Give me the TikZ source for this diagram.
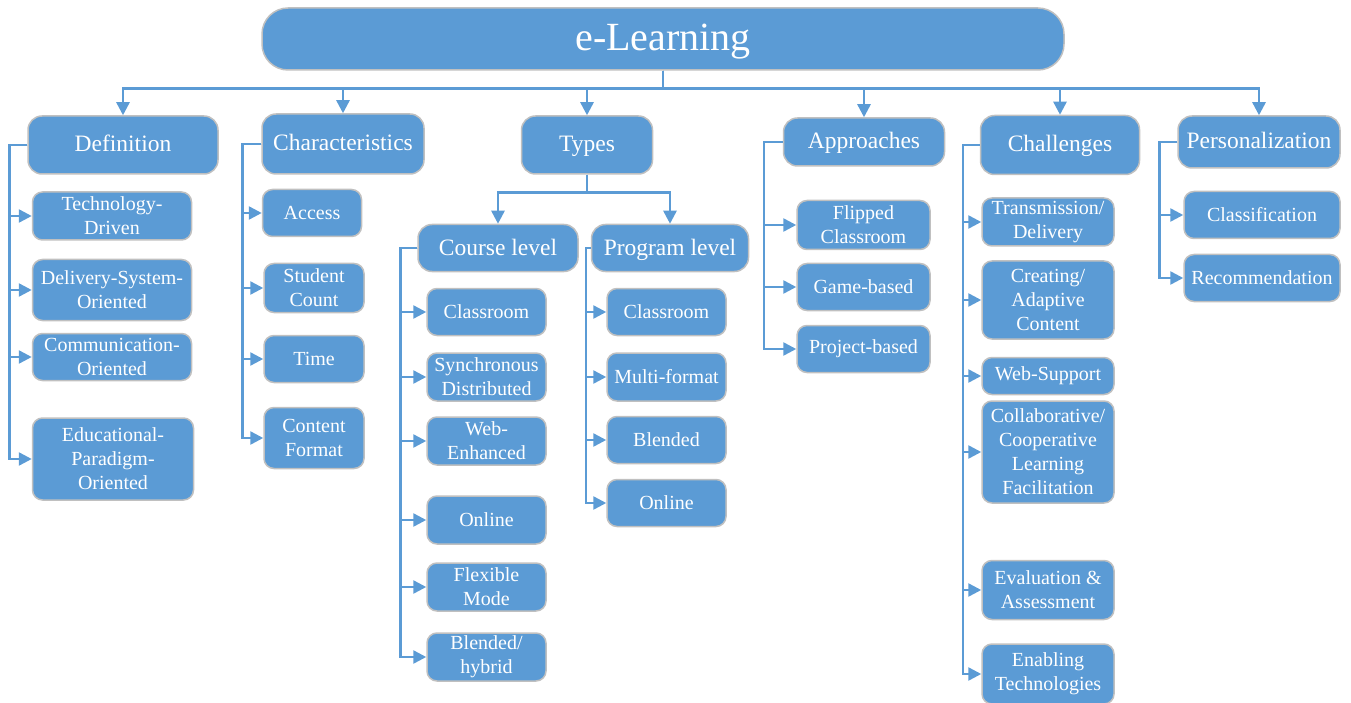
\documentclass[tikz,border=0pt]{standalone}
\usepackage{fontspec}
\setmainfont{Liberation Serif}
\usetikzlibrary{arrows.meta, positioning}
\usepackage{xcolor}
\definecolor{elblue}{RGB}{91,155,213}
\definecolor{elrim}{RGB}{192,192,192}

\begin{document}
\begin{tikzpicture}[
  x=1pt, y=-1pt,
  box/.style={rectangle, rounded corners=10pt, draw=elrim, line width=1.5pt, fill=elblue,
              text=white, align=center, inner sep=1pt, font=\fontsize{20}{24}\selectfont},
  cat/.style 2 args={box, rounded corners=14pt, minimum width=#1pt, minimum height=#2pt,
              text height=19pt, text depth=5pt, font=\fontsize{23.5}{27}\selectfont},
  leaf/.style 2 args={box, minimum width=#1pt, minimum height=#2pt},
  arr/.style={-{Triangle[length=13pt, width=13pt]}, line width=2.5pt, draw=elblue}
]
\useasboundingbox (0,0) rectangle (1351,703);

% root
\node[box, rounded corners=26pt, minimum width=802pt, minimum height=62pt,
      text height=32pt, text depth=8pt,
      font=\fontsize{40}{44}\selectfont] (elearn) at (663,39) {e-Learning};

% categories
\node[cat={190}{58}] (def)   at (123,145)  {Definition};
\node[cat={162}{60}] (chars) at (343,144)  {Characteristics};
\node[cat={131}{58}] (types) at (587,145)  {Types};
\node[cat={161}{48}] (appr)  at (864,142)  {Approaches};
\node[cat={159}{59}] (chal)  at (1060,145) {Challenges};
\node[cat={162}{52}] (pers)  at (1259,142) {Personalization};

% definition
\node[leaf={159}{48}] (tech)  at (112,216) {Technology-\\Driven};
\node[leaf={159}{61}] (deliv) at (112,290) {Delivery-System-\\Oriented};
\node[leaf={159}{47}] (comm)  at (112,357) {Communication-\\Oriented};
\node[leaf={161}{82}] (edu)   at (113,459) {Educational-\\Paradigm-\\Oriented};

% characteristics
\node[leaf={99}{47}]  (access) at (312,213) {Access};
\node[leaf={100}{49}] (count)  at (314,288) {Student\\Count};
\node[leaf={100}{47}] (time)   at (314,359) {Time};
\node[leaf={100}{61}] (format) at (314,438) {Content\\Format};

% types
\node[cat={160}{47}] (course) at (498,248) {Course level};
\node[cat={157}{47}] (prog)   at (670,248) {Program level};

\node[leaf={119}{47}] (cclass) at (486.5,312) {Classroom};
\node[leaf={119}{48}] (csync)  at (486.5,377) {Synchronous\\Distributed};
\node[leaf={119}{48}] (cweb)   at (486.5,441) {Web-\\Enhanced};
\node[leaf={119}{48}] (conl)   at (486.5,520) {Online};
\node[leaf={119}{48}] (cflex)  at (486.5,587) {Flexible\\Mode};
\node[leaf={119}{48}] (cblend) at (486.5,657) {Blended/\\hybrid};

\node[leaf={119}{47}] (pclass) at (666.5,312) {Classroom};
\node[leaf={119}{48}] (pmulti) at (666.5,377) {Multi-format};
\node[leaf={119}{47}] (pblend) at (666.5,440) {Blended};
\node[leaf={119}{47}] (ponl)   at (666.5,503) {Online};

% approaches
\node[leaf={133}{49}] (flip) at (863.5,225) {Flipped\\Classroom};
\node[leaf={133}{47}] (game) at (863.5,287) {Game-based};
\node[leaf={133}{47}] (proj) at (863.5,349) {Project-based};

% challenges
\node[leaf={132}{48}]  (trans)  at (1048,222) {Transmission/\\Delivery};
\node[leaf={132}{78}]  (creat)  at (1048,300) {Creating/\\Adaptive\\Content};
\node[leaf={132}{37}]  (websup) at (1048,376) {Web-Support};
\node[leaf={132}{102}] (collab) at (1048,452) {Collaborative/\\Cooperative\\Learning\\Facilitation};
\node[leaf={132}{59}]  (eval)   at (1048,590) {Evaluation \&\\Assessment};
\node[leaf={132}{60}]  (enab)   at (1048,674) {Enabling\\Technologies};

% personalization
\node[leaf={156}{47}] (classif) at (1262,215) {Classification};
\node[leaf={156}{47}] (recom)   at (1262,278) {Recommendation};

% top level connectors
\coordinate (topbus) at ([yshift=-18pt]elearn.south);
\draw[arr] (elearn.south) -- (topbus) -| (def);
\draw[arr] (elearn.south) -- (topbus) -| (chars);
\draw[arr] (elearn.south) -- (topbus) -| (types);
\draw[arr] (elearn.south) -- (topbus) -| (appr);
\draw[arr] (elearn.south) -- (topbus) -| (chal);
\draw[arr] (elearn.south) -- (topbus) -| (pers);

\coordinate (defbus) at ([xshift=-18pt]def.west);
\draw[arr] (def.west) -- (defbus) |- (tech);
\draw[arr] (def.west) -- (defbus) |- (deliv);
\draw[arr] (def.west) -- (defbus) |- (comm);
\draw[arr] (def.west) -- (defbus) |- (edu);

\coordinate (charbus) at ([xshift=-19pt]chars.west);
\draw[arr] (chars.west) -- (charbus) |- (access);
\draw[arr] (chars.west) -- (charbus) |- (count);
\draw[arr] (chars.west) -- (charbus) |- (time);
\draw[arr] (chars.west) -- (charbus) |- (format);

\coordinate (typebus) at ([yshift=-18pt]types.south);
\draw[arr] (types.south) -- (typebus) -| (course);
\draw[arr] (types.south) -- (typebus) -| (prog);

\coordinate (coursebus) at ([xshift=-17pt]course.west);
\draw[arr] (course.west) -- (coursebus) |- (cclass);
\draw[arr] (course.west) -- (coursebus) |- (csync);
\draw[arr] (course.west) -- (coursebus) |- (cweb);
\draw[arr] (course.west) -- (coursebus) |- (conl);
\draw[arr] (course.west) -- (coursebus) |- (cflex);
\draw[arr] (course.west) -- (coursebus) |- (cblend);

\coordinate (progbus) at ([xshift=-5pt]prog.west);
\draw[arr] (prog.west) -- (progbus) |- (pclass);
\draw[arr] (prog.west) -- (progbus) |- (pmulti);
\draw[arr] (prog.west) -- (progbus) |- (pblend);
\draw[arr] (prog.west) -- (progbus) |- (ponl);

\coordinate (apprbus) at ([xshift=-19pt]appr.west);
\draw[arr] (appr.west) -- (apprbus) |- (flip);
\draw[arr] (appr.west) -- (apprbus) |- (game);
\draw[arr] (appr.west) -- (apprbus) |- (proj);

\coordinate (chalbus) at ([xshift=-17pt]chal.west);
\draw[arr] (chal.west) -- (chalbus) |- (trans);
\draw[arr] (chal.west) -- (chalbus) |- (creat);
\draw[arr] (chal.west) -- (chalbus) |- (websup);
\draw[arr] (chal.west) -- (chalbus) |- (collab);
\draw[arr] (chal.west) -- (chalbus) |- (eval);
\draw[arr] (chal.west) -- (chalbus) |- (enab);

\coordinate (persbus) at ([xshift=-18pt]pers.west);
\draw[arr] (pers.west) -- (persbus) |- (classif);
\draw[arr] (pers.west) -- (persbus) |- (recom);

\end{tikzpicture}
\end{document}
